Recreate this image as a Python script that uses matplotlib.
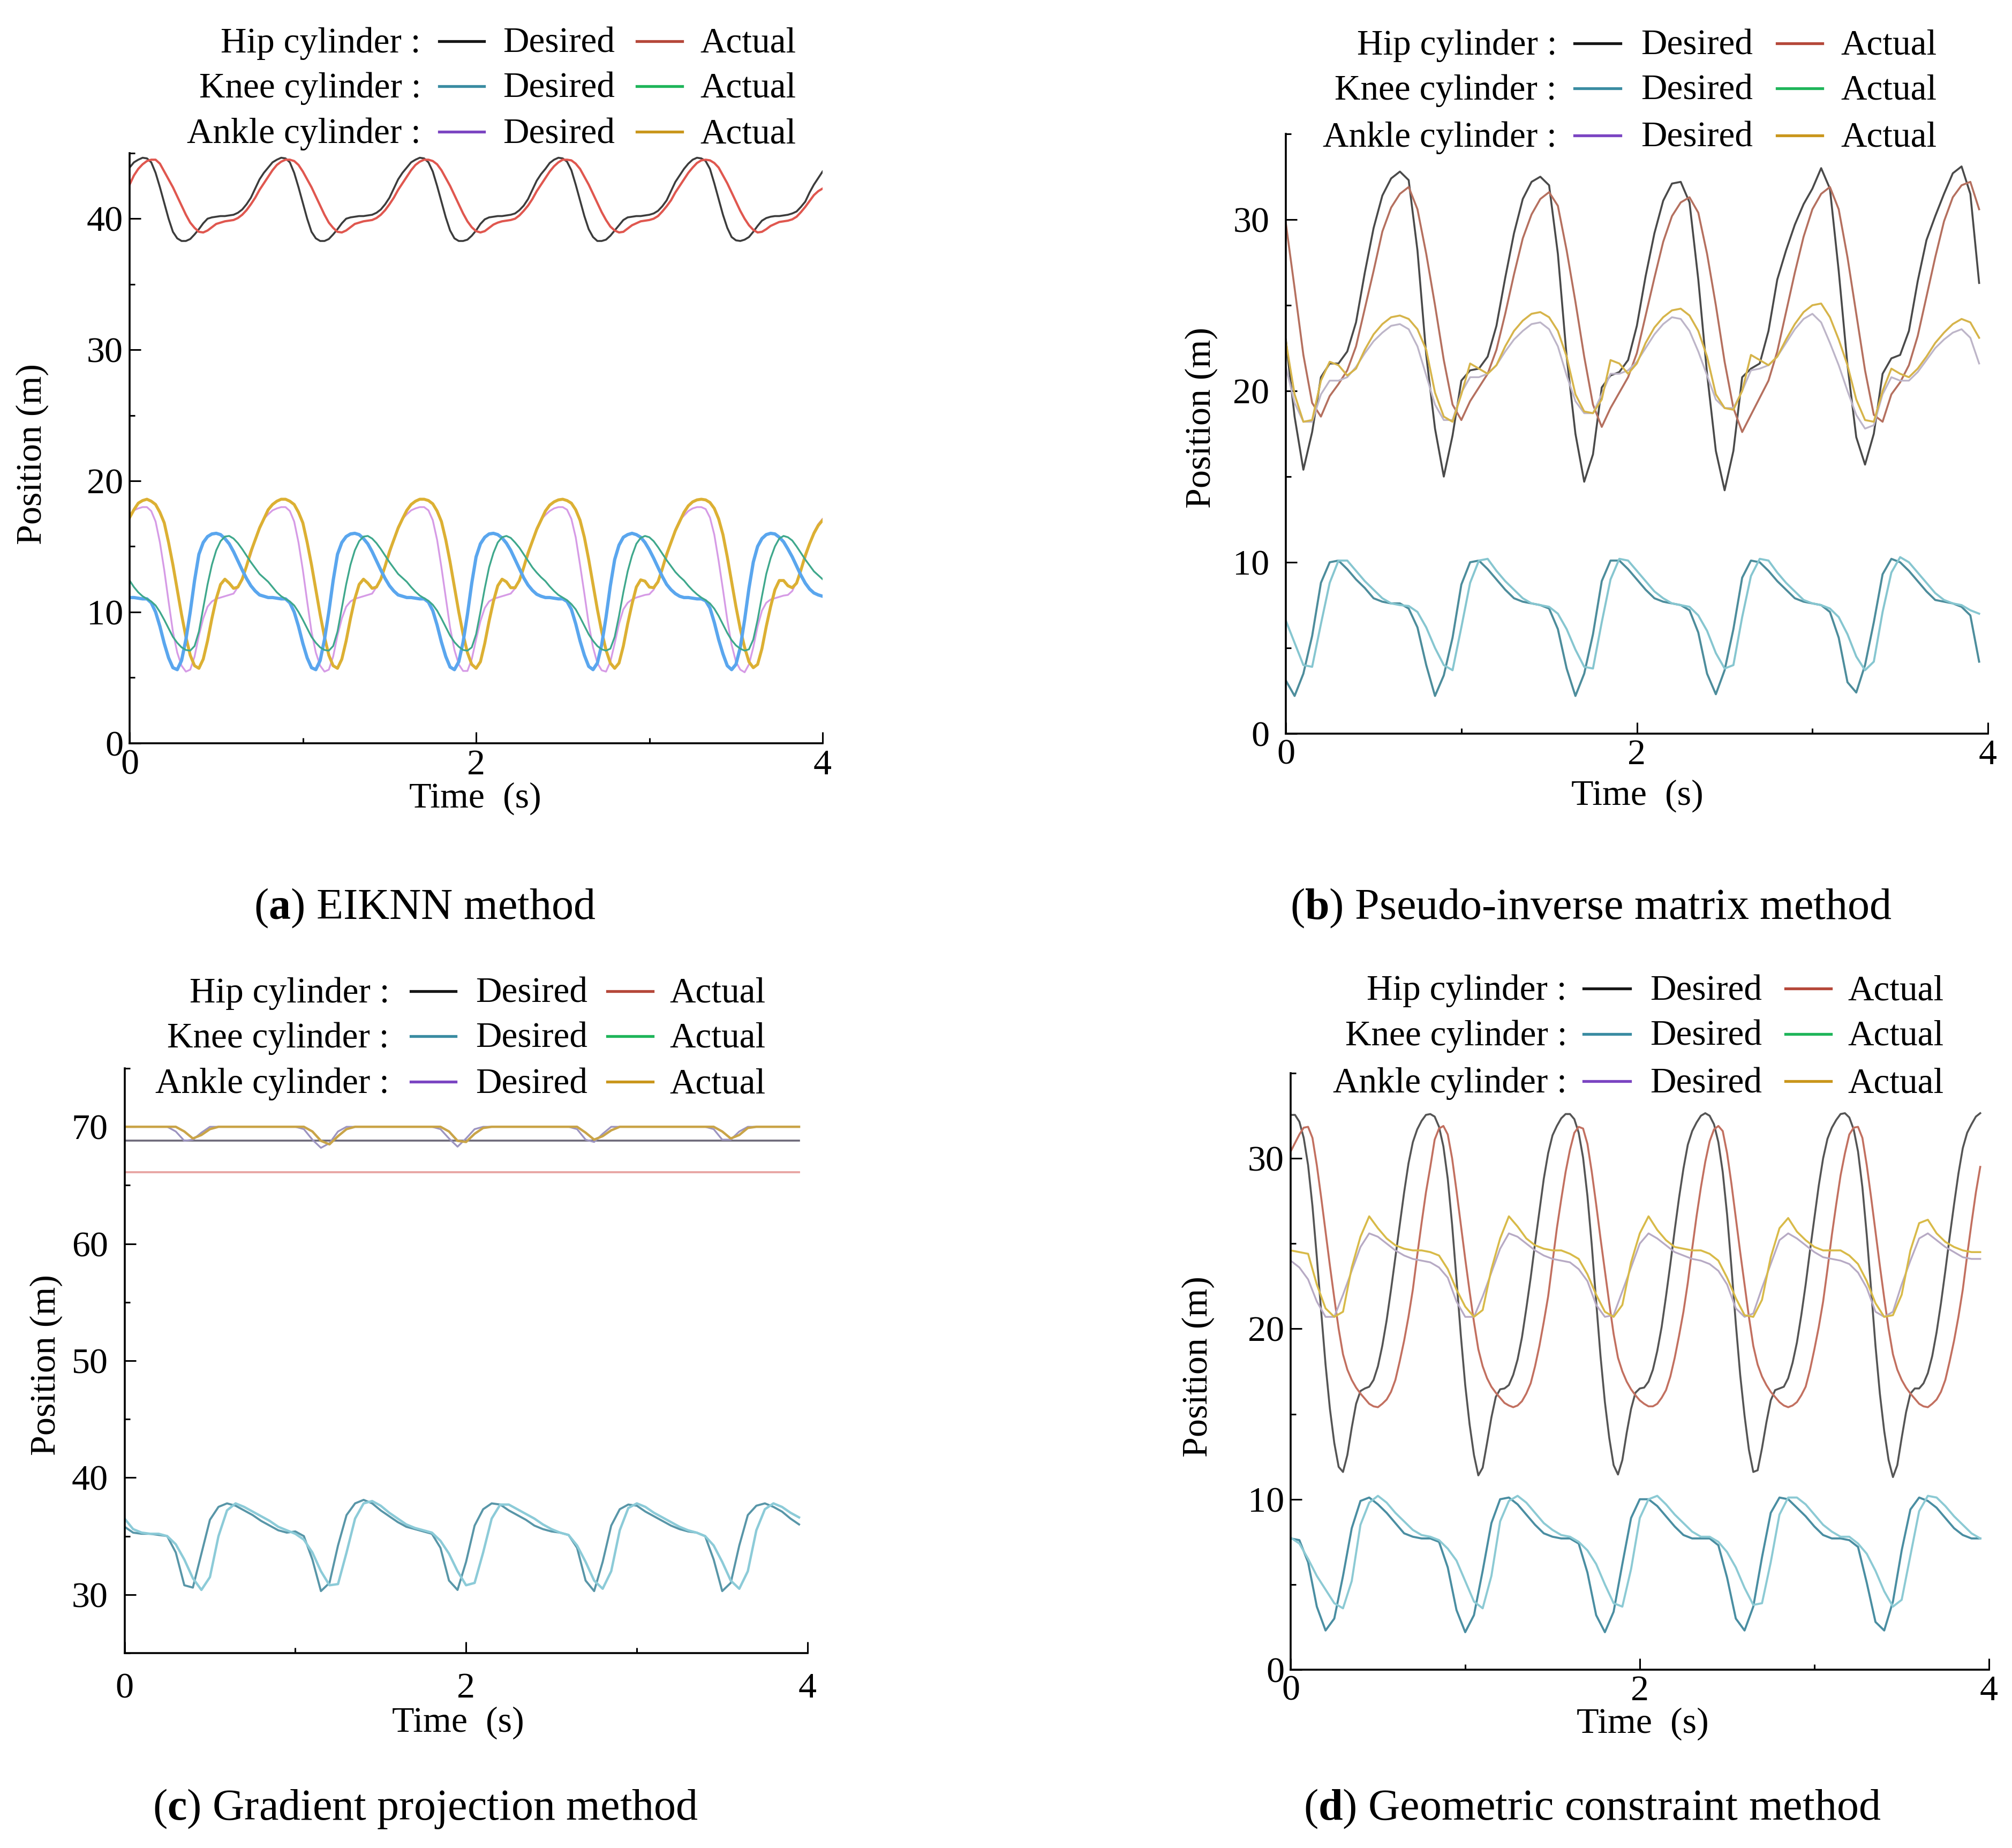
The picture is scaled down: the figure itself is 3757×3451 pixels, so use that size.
import numpy as np
import matplotlib
matplotlib.use("Agg")
import matplotlib.pyplot as plt
from matplotlib.lines import Line2D

plt.rcParams['font.family'] = ['Liberation Serif', 'DejaVu Serif']
plt.rcParams['mathtext.fontset'] = 'custom'
plt.rcParams['mathtext.rm'] = 'Liberation Serif'
plt.rcParams['mathtext.bf'] = 'Liberation Serif:bold'
plt.rcParams['lines.solid_joinstyle'] = 'round'

W, H = 3757, 3451
DPI = 200

TICK_FS = 24.5
LABEL_FS = 24.5
KEY_FS = 24.2
CAP_FS = 29.5

# ---------------- data ----------------
t_a = np.linspace(0, 4, 161)      # panel (a): every 0.025 s
t_b = np.linspace(0, 3.95, 80)    # panels (b)-(d): every 0.05 s
t_d = np.linspace(0, 3.95, 159)   # hip curves of panel (d): every 0.025 s

# (a) EIKNN method
hip_des_a = [
    43.9, 44.3, 44.5, 44.65, 44.6, 44.3, 43.5, 42.4, 41.2, 40.0, 39.0, 38.5, 38.3, 38.3, 38.45, 38.8,
    39.2, 39.65, 40.0, 40.1, 40.15, 40.2, 40.2, 40.25, 40.3, 40.45, 40.7, 41.1, 41.6, 42.3, 43.0, 43.5,
    43.9, 44.3, 44.5, 44.65, 44.6, 44.3, 43.5, 42.4, 41.2, 40.0, 39.0, 38.5, 38.3, 38.3, 38.45, 38.8,
    39.2, 39.65, 40.0, 40.1, 40.15, 40.2, 40.2, 40.25, 40.3, 40.45, 40.7, 41.1, 41.6, 42.3, 43.0, 43.5,
    43.9, 44.3, 44.5, 44.65, 44.6, 44.3, 43.6, 42.5, 41.3, 40.1, 39.1, 38.5, 38.3, 38.3, 38.4, 38.7,
    39.1, 39.6, 39.95, 40.1, 40.15, 40.2, 40.2, 40.25, 40.3, 40.4, 40.65, 41.0, 41.5, 42.2, 42.9, 43.4,
    43.8, 44.25, 44.5, 44.65, 44.6, 44.35, 43.7, 42.6, 41.4, 40.2, 39.2, 38.6, 38.3, 38.3, 38.4, 38.7,
    39.1, 39.5, 39.9, 40.1, 40.15, 40.2, 40.2, 40.25, 40.3, 40.4, 40.6, 40.95, 41.4, 42.1, 42.8, 43.3,
    43.8, 44.2, 44.5, 44.65, 44.6, 44.4, 43.8, 42.7, 41.5, 40.3, 39.3, 38.6, 38.35, 38.3, 38.4, 38.6,
    39.0, 39.45, 39.85, 40.05, 40.15, 40.2, 40.2, 40.25, 40.3, 40.4, 40.55, 40.9, 41.3, 42.0, 42.6, 43.1,
    43.6]
hip_act_a = [
    42.6, 43.3, 43.8, 44.15, 44.4, 44.5, 44.5, 44.2, 43.6, 43.0, 42.4, 41.7, 41.0, 40.3, 39.7, 39.3,
    39.0, 38.95, 39.1, 39.35, 39.6, 39.7, 39.8, 39.85, 39.9, 40.05, 40.3, 40.65, 41.1, 41.6, 42.2, 42.7,
    43.2, 43.7, 44.1, 44.35, 44.5, 44.5, 44.4, 44.1, 43.6, 43.0, 42.4, 41.7, 41.0, 40.3, 39.7, 39.3,
    39.0, 38.95, 39.1, 39.35, 39.6, 39.7, 39.8, 39.85, 39.9, 40.05, 40.3, 40.65, 41.1, 41.6, 42.2, 42.7,
    43.2, 43.7, 44.1, 44.35, 44.5, 44.5, 44.4, 44.15, 43.7, 43.1, 42.5, 41.8, 41.1, 40.4, 39.8, 39.35,
    39.05, 38.95, 39.05, 39.3, 39.55, 39.7, 39.8, 39.85, 39.9, 40.0, 40.25, 40.6, 41.0, 41.5, 42.1, 42.6,
    43.1, 43.6, 44.0, 44.3, 44.5, 44.5, 44.45, 44.2, 43.8, 43.2, 42.6, 41.9, 41.2, 40.5, 39.9, 39.4,
    39.1, 38.95, 39.0, 39.25, 39.5, 39.65, 39.8, 39.85, 39.9, 40.0, 40.2, 40.55, 40.95, 41.4, 42.0, 42.5,
    43.0, 43.5, 43.9, 44.25, 44.45, 44.5, 44.45, 44.25, 43.9, 43.3, 42.7, 42.0, 41.3, 40.6, 40.0, 39.5,
    39.15, 38.95, 39.0, 39.2, 39.45, 39.6, 39.75, 39.8, 39.85, 39.95, 40.15, 40.5, 40.9, 41.35, 41.8, 42.1,
    42.3]
knee_des_a = [
    11.1, 11.1, 11.05, 11.0, 11.0, 10.7, 10.0, 8.9, 7.6, 6.5, 5.75, 5.6, 6.3, 7.9, 10.0, 12.4,
    14.4, 15.3, 15.75, 15.95, 16.0, 15.9, 15.6, 15.2, 14.6, 13.9, 13.2, 12.55, 12.0, 11.6, 11.3, 11.2,
    11.1, 11.1, 11.05, 11.0, 11.0, 10.7, 10.0, 8.9, 7.6, 6.5, 5.75, 5.6, 6.3, 7.9, 10.0, 12.4,
    14.4, 15.3, 15.75, 15.95, 16.0, 15.9, 15.6, 15.2, 14.6, 13.9, 13.2, 12.55, 12.0, 11.6, 11.3, 11.2,
    11.1, 11.1, 11.05, 11.0, 11.0, 10.75, 10.1, 9.0, 7.7, 6.6, 5.8, 5.6, 6.2, 7.7, 9.8, 12.2,
    14.2, 15.2, 15.7, 15.95, 16.0, 15.9, 15.65, 15.25, 14.7, 14.0, 13.3, 12.6, 12.05, 11.65, 11.35, 11.2,
    11.1, 11.1, 11.05, 11.0, 11.0, 10.8, 10.2, 9.1, 7.8, 6.7, 5.85, 5.6, 6.1, 7.5, 9.6, 12.0,
    14.0, 15.1, 15.7, 15.9, 16.0, 15.9, 15.7, 15.3, 14.75, 14.1, 13.4, 12.7, 12.1, 11.7, 11.4, 11.2,
    11.1, 11.1, 11.05, 11.0, 11.0, 10.85, 10.3, 9.2, 7.9, 6.8, 5.9, 5.6, 6.0, 7.3, 9.4, 11.8,
    13.8, 15.0, 15.6, 15.9, 16.0, 15.95, 15.7, 15.35, 14.8, 14.2, 13.5, 12.8, 12.2, 11.75, 11.45, 11.3,
    11.2]
knee_act_a = [
    12.4, 11.9, 11.5, 11.2, 11.0, 10.8, 10.5, 10.0, 9.4, 8.75, 8.1, 7.65, 7.3, 7.1, 7.05, 7.4,
    8.5, 10.3, 12.1, 13.6, 14.7, 15.4, 15.75, 15.8, 15.6, 15.25, 14.8, 14.3, 13.8, 13.35, 12.9, 12.6,
    12.3, 11.9, 11.5, 11.2, 11.0, 10.8, 10.5, 10.0, 9.4, 8.75, 8.1, 7.65, 7.3, 7.1, 7.05, 7.4,
    8.5, 10.3, 12.1, 13.6, 14.7, 15.4, 15.75, 15.8, 15.6, 15.25, 14.8, 14.3, 13.8, 13.35, 12.9, 12.6,
    12.3, 11.9, 11.55, 11.25, 11.05, 10.85, 10.55, 10.1, 9.5, 8.85, 8.2, 7.7, 7.35, 7.1, 7.05, 7.3,
    8.3, 10.0, 11.8, 13.4, 14.5, 15.3, 15.7, 15.8, 15.65, 15.3, 14.9, 14.4, 13.9, 13.4, 13.0, 12.65,
    12.35, 11.95, 11.6, 11.3, 11.1, 10.9, 10.6, 10.2, 9.6, 8.95, 8.3, 7.8, 7.4, 7.15, 7.05, 7.2,
    8.1, 9.7, 11.5, 13.1, 14.3, 15.2, 15.65, 15.8, 15.7, 15.4, 14.95, 14.45, 13.95, 13.5, 13.05, 12.7,
    12.4, 12.0, 11.65, 11.35, 11.1, 10.9, 10.65, 10.25, 9.7, 9.05, 8.4, 7.85, 7.45, 7.2, 7.05, 7.15,
    7.9, 9.4, 11.2, 12.9, 14.1, 15.0, 15.6, 15.8, 15.7, 15.45, 15.0, 14.5, 14.0, 13.55, 13.1, 12.8,
    12.5]
ank_des_a = [
    17.45, 17.75, 17.9, 18.0, 18.0, 17.7, 16.9, 15.3, 13.2, 10.8, 8.5, 6.9, 5.9, 5.45, 5.6, 6.6,
    8.2, 9.5, 10.4, 10.8, 11.0, 11.1, 11.2, 11.3, 11.4, 11.9, 12.6, 13.5, 14.4, 15.5, 16.5, 17.1,
    17.45, 17.75, 17.9, 18.0, 18.0, 17.7, 16.9, 15.3, 13.2, 10.8, 8.5, 6.9, 5.9, 5.45, 5.6, 6.6,
    8.2, 9.5, 10.4, 10.8, 11.0, 11.1, 11.2, 11.3, 11.4, 11.9, 12.6, 13.5, 14.4, 15.5, 16.5, 17.1,
    17.45, 17.75, 17.9, 18.0, 18.0, 17.75, 17.0, 15.5, 13.4, 11.1, 8.8, 7.1, 6.0, 5.5, 5.5, 6.4,
    7.9, 9.3, 10.3, 10.8, 11.0, 11.1, 11.2, 11.3, 11.4, 11.8, 12.5, 13.4, 14.3, 15.4, 16.4, 17.05,
    17.4, 17.7, 17.9, 18.0, 18.0, 17.8, 17.1, 15.7, 13.6, 11.4, 9.1, 7.3, 6.1, 5.55, 5.45, 6.2,
    7.6, 9.1, 10.2, 10.7, 10.95, 11.1, 11.2, 11.3, 11.35, 11.7, 12.4, 13.3, 14.2, 15.3, 16.3, 17.0,
    17.35, 17.7, 17.9, 18.0, 18.0, 17.85, 17.2, 15.9, 13.9, 11.7, 9.4, 7.5, 6.2, 5.6, 5.4, 6.0,
    7.3, 8.9, 10.1, 10.7, 10.95, 11.05, 11.15, 11.25, 11.3, 11.6, 12.3, 13.2, 14.1, 15.2, 16.1, 16.7,
    17.1]
ank_act_a = [
    17.2, 17.8, 18.3, 18.5, 18.6, 18.45, 18.2, 17.6, 16.8, 15.3, 13.6, 11.7, 9.8, 8.1, 6.7, 5.9,
    5.7, 6.4, 7.8, 9.5, 11.0, 12.1, 12.5, 12.2, 11.8, 11.9, 12.5, 13.5, 14.6, 15.5, 16.4, 17.1,
    17.8, 18.2, 18.45, 18.6, 18.6, 18.45, 18.2, 17.6, 16.8, 15.3, 13.6, 11.7, 9.8, 8.1, 6.7, 5.9,
    5.7, 6.4, 7.8, 9.5, 11.0, 12.1, 12.5, 12.2, 11.8, 11.9, 12.5, 13.5, 14.6, 15.5, 16.4, 17.1,
    17.75, 18.2, 18.45, 18.6, 18.6, 18.5, 18.25, 17.7, 16.9, 15.5, 13.8, 11.9, 10.0, 8.3, 6.9, 6.0,
    5.7, 6.2, 7.6, 9.3, 10.8, 12.0, 12.5, 12.3, 11.85, 11.85, 12.4, 13.4, 14.5, 15.4, 16.3, 17.0,
    17.7, 18.15, 18.4, 18.55, 18.6, 18.5, 18.3, 17.8, 17.0, 15.7, 14.0, 12.1, 10.2, 8.5, 7.1, 6.1,
    5.7, 6.1, 7.4, 9.1, 10.6, 11.9, 12.45, 12.35, 11.9, 11.85, 12.3, 13.3, 14.4, 15.3, 16.2, 16.9,
    17.6, 18.1, 18.4, 18.55, 18.6, 18.55, 18.35, 17.9, 17.1, 15.9, 14.2, 12.3, 10.4, 8.7, 7.3, 6.2,
    5.75, 6.0, 7.2, 8.9, 10.4, 11.7, 12.4, 12.4, 12.0, 11.85, 12.2, 13.2, 14.3, 15.2, 16.0, 16.6,
    17.0]

# (b) Pseudo-inverse matrix method
hip_des_b = [
    23.0, 18.5, 15.4, 17.6, 20.8, 21.6, 21.6, 22.3, 24.0, 26.9, 29.5, 31.4, 32.4, 32.8, 32.3, 28.2,
    22.1, 17.8, 15.0, 17.4, 20.6, 21.2, 21.3, 22.0, 23.8, 26.6, 29.2, 31.2, 32.2, 32.5, 32.0, 28.0,
    22.0, 17.5, 14.7, 16.3, 20.2, 20.9, 21.1, 21.8, 23.8, 26.7, 29.2, 31.1, 32.1, 32.2, 31.0, 26.5,
    21.0, 16.5, 14.2, 16.5, 20.8, 21.3, 21.6, 23.5, 26.5, 28.2, 29.7, 30.9, 31.8, 33.0, 31.8, 27.0,
    21.5, 17.3, 15.7, 17.5, 21.0, 21.9, 22.1, 23.5, 26.4, 28.8, 30.2, 31.5, 32.7, 33.1, 31.5, 26.3]
hip_act_b = [
    29.8, 26.0, 22.1, 19.3, 18.5, 19.7, 20.4, 21.2, 22.6, 24.8, 27.0, 29.3, 30.7, 31.5, 31.9, 30.6,
    28.0, 25.0, 21.8, 19.2, 18.3, 19.4, 20.2, 21.0, 22.4, 24.5, 26.8, 28.9, 30.3, 31.2, 31.6, 30.8,
    28.2, 25.2, 22.0, 19.2, 17.9, 19.0, 19.9, 20.8, 22.2, 24.4, 26.6, 28.7, 30.2, 31.0, 31.3, 30.4,
    28.0, 25.0, 21.7, 19.0, 17.6, 18.6, 19.6, 20.6, 22.3, 24.6, 26.9, 29.0, 30.6, 31.5, 31.9, 30.6,
    27.8, 24.5, 21.2, 18.6, 18.2, 19.8, 20.5, 21.5, 23.2, 25.5, 27.8, 29.9, 31.3, 32.0, 32.2, 30.6]
knee_des_b = [
    3.1, 2.2, 3.5, 5.7, 8.8, 10.0, 10.1, 9.6, 9.0, 8.5, 7.9, 7.7, 7.6, 7.6, 7.3, 6.2,
    4.0, 2.2, 3.4, 5.6, 8.7, 10.0, 10.1, 9.6, 9.0, 8.4, 7.9, 7.7, 7.6, 7.5, 7.3, 6.1,
    3.8, 2.2, 3.5, 5.8, 8.9, 10.1, 10.1, 9.6, 9.0, 8.4, 7.9, 7.7, 7.6, 7.5, 7.2, 5.9,
    3.5, 2.3, 3.7, 6.1, 9.1, 10.1, 10.0, 9.5, 8.9, 8.4, 7.9, 7.7, 7.6, 7.5, 7.1, 5.6,
    3.0, 2.4, 4.0, 6.5, 9.3, 10.2, 10.0, 9.5, 8.9, 8.3, 7.8, 7.7, 7.6, 7.4, 6.9, 4.2]
knee_act_b = [
    6.6, 5.3, 4.0, 3.9, 6.4, 8.8, 10.1, 10.1, 9.5, 8.9, 8.4, 7.9, 7.6, 7.5, 7.45, 7.1,
    6.2, 5.0, 4.0, 3.7, 6.2, 8.8, 10.1, 10.2, 9.5, 8.9, 8.4, 7.9, 7.6, 7.5, 7.4, 7.0,
    6.1, 4.9, 3.9, 3.8, 6.5, 9.0, 10.2, 10.1, 9.5, 8.9, 8.3, 7.9, 7.6, 7.5, 7.4, 6.9,
    6.0, 4.7, 3.8, 4.0, 6.8, 9.2, 10.2, 10.1, 9.4, 8.8, 8.3, 7.8, 7.6, 7.5, 7.3, 6.8,
    5.8, 4.5, 3.7, 4.2, 7.1, 9.4, 10.3, 10.0, 9.4, 8.8, 8.2, 7.8, 7.6, 7.5, 7.2, 7.0]
ank_des_b = [
    21.4, 19.3, 18.2, 18.2, 19.8, 20.6, 20.6, 20.8, 21.4, 22.2, 22.9, 23.4, 23.8, 23.9, 23.6, 22.6,
    20.9, 19.2, 18.3, 18.3, 19.9, 20.8, 20.8, 21.0, 21.5, 22.3, 23.0, 23.5, 23.9, 24.0, 23.6, 22.6,
    20.9, 19.4, 18.7, 18.7, 19.8, 21.0, 21.0, 21.2, 21.7, 22.5, 23.3, 23.9, 24.3, 24.2, 23.5, 22.3,
    20.9, 19.5, 19.0, 19.0, 20.0, 21.2, 21.3, 21.5, 22.0, 22.8, 23.6, 24.2, 24.5, 24.0, 22.8, 21.5,
    20.0, 18.6, 17.8, 18.0, 19.8, 20.8, 20.6, 20.6, 21.1, 21.8, 22.5, 23.0, 23.4, 23.6, 23.1, 21.6]
ank_act_b = [
    22.9, 19.8, 18.2, 18.3, 20.6, 21.7, 21.5, 20.9, 21.3, 22.4, 23.3, 23.9, 24.3, 24.4, 24.2, 23.6,
    22.4, 19.9, 18.5, 18.2, 19.8, 21.6, 21.3, 21.0, 21.5, 22.6, 23.5, 24.1, 24.5, 24.6, 24.3, 23.5,
    22.0, 19.8, 18.8, 18.7, 19.5, 21.8, 21.6, 21.0, 21.6, 22.8, 23.7, 24.3, 24.7, 24.8, 24.4, 23.5,
    22.0, 19.8, 19.0, 18.9, 20.0, 22.1, 21.8, 21.5, 22.0, 23.0, 23.9, 24.6, 25.0, 25.1, 24.3, 23.0,
    21.5, 19.5, 18.3, 18.2, 20.0, 21.3, 21.0, 20.8, 21.3, 22.0, 22.8, 23.4, 23.9, 24.2, 24.0, 23.1]

# (c) Gradient projection method
hip_des_c = [68.8] * 80
hip_act_c = [66.1] * 80
knee_des_c = [
    35.8, 35.3, 35.2, 35.2, 35.1, 35.0, 33.6, 30.8, 30.6, 33.5, 36.4, 37.5, 37.8, 37.6, 37.2, 36.8,
    36.3, 35.9, 35.5, 35.3, 35.4, 35.0, 33.0, 30.3, 31.0, 34.2, 36.8, 37.8, 38.1, 37.8, 37.2, 36.7,
    36.2, 35.8, 35.6, 35.4, 35.2, 34.0, 31.2, 30.4, 32.8, 35.9, 37.3, 37.8, 37.7, 37.2, 36.8, 36.4,
    35.9, 35.6, 35.4, 35.3, 35.1, 34.0, 31.2, 30.3, 32.8, 35.9, 37.3, 37.7, 37.6, 37.1, 36.7, 36.3,
    35.9, 35.6, 35.4, 35.3, 35.0, 33.0, 30.3, 31.0, 34.2, 36.8, 37.6, 37.8, 37.5, 37.1, 36.5, 36.0]
knee_act_c = [
    36.5, 35.6, 35.3, 35.2, 35.2, 35.0, 34.3, 33.0, 31.4, 30.4, 31.5, 35.0, 37.2, 37.8, 37.5, 37.1,
    36.7, 36.3, 35.8, 35.5, 35.2, 34.7, 33.6, 32.0, 30.8, 30.9, 33.6, 36.5, 37.8, 38.0, 37.6, 37.0,
    36.5, 36.0, 35.7, 35.5, 35.3, 34.6, 33.5, 32.0, 30.8, 31.0, 33.6, 36.5, 37.7, 37.7, 37.3, 36.9,
    36.5, 36.0, 35.6, 35.3, 35.1, 34.2, 32.8, 31.2, 30.5, 32.0, 35.5, 37.4, 37.8, 37.5, 37.0, 36.6,
    36.2, 35.8, 35.5, 35.3, 35.0, 34.2, 32.8, 31.2, 30.5, 32.0, 35.5, 37.3, 37.8, 37.5, 37.0, 36.6]
ank_des_c = [
    70.0, 70.0, 70.0, 70.0, 70.0, 70.0, 69.6, 68.8, 68.9, 69.5, 70.0, 70.0, 70.0, 70.0, 70.0, 70.0,
    70.0, 70.0, 70.0, 70.0, 70.0, 69.8, 68.9, 68.2, 68.6, 69.6, 70.0, 70.0, 70.0, 70.0, 70.0, 70.0,
    70.0, 70.0, 70.0, 70.0, 70.0, 69.8, 69.0, 68.3, 69.0, 69.8, 70.0, 70.0, 70.0, 70.0, 70.0, 70.0,
    70.0, 70.0, 70.0, 70.0, 70.0, 69.8, 68.9, 68.7, 69.4, 70.0, 70.0, 70.0, 70.0, 70.0, 70.0, 70.0,
    70.0, 70.0, 70.0, 70.0, 70.0, 69.8, 68.9, 68.9, 69.6, 70.0, 70.0, 70.0, 70.0, 70.0, 70.0, 70.0]
ank_act_c = [
    70.0, 70.0, 70.0, 70.0, 70.0, 70.0, 70.0, 69.6, 69.0, 69.3, 69.8, 70.0, 70.0, 70.0, 70.0, 70.0,
    70.0, 70.0, 70.0, 70.0, 70.0, 70.0, 69.6, 68.8, 68.5, 69.2, 69.8, 70.0, 70.0, 70.0, 70.0, 70.0,
    70.0, 70.0, 70.0, 70.0, 70.0, 70.0, 69.6, 68.8, 68.7, 69.4, 69.9, 70.0, 70.0, 70.0, 70.0, 70.0,
    70.0, 70.0, 70.0, 70.0, 70.0, 70.0, 69.5, 68.9, 69.2, 69.7, 70.0, 70.0, 70.0, 70.0, 70.0, 70.0,
    70.0, 70.0, 70.0, 70.0, 70.0, 70.0, 69.6, 69.0, 69.3, 69.9, 70.0, 70.0, 70.0, 70.0, 70.0, 70.0]

# (d) Geometric constraint method
hip_des_d = [
    32.55, 32.55, 32.15, 31.2, 29.6, 27.2, 24.2, 21.0, 17.9, 15.3, 13.3, 11.9, 11.6, 12.6, 14.2, 15.6,
    16.35, 16.5, 16.6, 17.0, 17.8, 19.0, 20.5, 22.3, 24.2, 26.1, 28.0, 29.7, 30.95, 31.7, 32.2, 32.55,
    32.6, 32.45, 31.85, 30.7, 28.8, 26.1, 22.9, 19.6, 16.7, 14.4, 12.6, 11.4, 11.85, 13.3, 14.8, 16.0,
    16.45, 16.5, 16.7, 17.3, 18.2, 19.5, 21.2, 23.0, 25.0, 26.9, 28.8, 30.3, 31.35, 31.9, 32.35, 32.6,
    32.6, 32.3, 31.5, 30.05, 27.8, 24.9, 21.6, 18.4, 15.7, 13.6, 12.0, 11.45, 12.3, 13.9, 15.3, 16.25,
    16.5, 16.55, 16.9, 17.6, 18.7, 20.1, 21.9, 23.8, 25.8, 27.7, 29.4, 30.8, 31.6, 32.1, 32.5, 32.65,
    32.5, 32.0, 30.95, 29.2, 26.7, 23.6, 20.3, 17.3, 14.9, 12.9, 11.6, 11.7, 13.0, 14.5, 15.8, 16.4,
    16.5, 16.6, 17.1, 18.0, 19.2, 20.8, 22.6, 24.6, 26.5, 28.4, 30.0, 31.15, 31.8, 32.25, 32.6, 32.65,
    32.4, 31.7, 30.4, 28.3, 25.5, 22.3, 19.0, 16.2, 14.0, 12.3, 11.3, 12.0, 13.6, 15.1, 16.2, 16.5,
    16.5, 16.8, 17.4, 18.4, 19.8, 21.5, 23.4, 25.4, 27.3, 29.1, 30.6, 31.5, 32.0, 32.45, 32.65]
hip_act_d = [
    30.4, 30.9, 31.4, 31.8, 31.85, 31.2, 29.6, 27.7, 25.7, 23.7, 21.8, 20.0, 18.5, 17.6, 17.0, 16.55,
    16.2, 15.9, 15.6, 15.45, 15.4, 15.6, 15.85, 16.3, 17.0, 18.1, 19.3, 20.7, 22.3, 24.3, 26.2, 28.0,
    29.5, 31.1, 31.75, 31.9, 31.4, 30.0, 28.1, 26.1, 24.1, 22.2, 20.4, 18.8, 17.8, 17.1, 16.6, 16.25,
    15.95, 15.65, 15.5, 15.4, 15.5, 15.75, 16.2, 16.8, 17.8, 19.0, 20.4, 21.9, 23.9, 25.9, 27.6, 29.2,
    30.5, 31.5, 31.85, 31.75, 30.85, 29.2, 27.3, 25.3, 23.4, 21.5, 19.7, 18.3, 17.5, 16.9, 16.45, 16.1,
    15.8, 15.6, 15.45, 15.45, 15.6, 15.95, 16.4, 17.2, 18.3, 19.6, 21.0, 22.7, 24.7, 26.6, 28.3, 29.8,
    31.0, 31.7, 31.9, 31.6, 30.3, 28.5, 26.5, 24.5, 22.6, 20.7, 19.0, 17.9, 17.2, 16.7, 16.3, 16.0,
    15.7, 15.5, 15.4, 15.5, 15.7, 16.1, 16.6, 17.6, 18.8, 20.1, 21.6, 23.5, 25.5, 27.3, 29.0, 30.3,
    31.4, 31.8, 31.85, 31.2, 29.6, 27.7, 25.7, 23.7, 21.8, 20.0, 18.5, 17.6, 17.0, 16.55, 16.2, 15.9,
    15.6, 15.45, 15.4, 15.6, 15.85, 16.3, 17.0, 18.1, 19.3, 20.7, 22.3, 24.3, 26.2, 28.0, 29.5]
knee_des_d = [
    7.7, 7.6, 6.3, 3.7, 2.3, 3.0, 5.5, 8.3, 9.9, 10.1, 9.7, 9.2, 8.6, 8.0, 7.8, 7.7,
    7.7, 7.5, 6.0, 3.5, 2.2, 3.2, 5.8, 8.6, 10.0, 10.1, 9.7, 9.1, 8.5, 8.0, 7.8, 7.7,
    7.7, 7.4, 5.7, 3.2, 2.2, 3.4, 6.2, 8.9, 10.0, 10.0, 9.6, 9.0, 8.4, 7.9, 7.7, 7.7,
    7.7, 7.3, 5.4, 3.0, 2.3, 3.7, 6.6, 9.2, 10.1, 10.0, 9.5, 9.0, 8.4, 7.9, 7.7, 7.7,
    7.6, 7.2, 5.1, 2.8, 2.3, 4.0, 7.0, 9.4, 10.1, 9.9, 9.5, 8.9, 8.3, 7.9, 7.7, 7.7]
knee_act_d = [
    7.75, 7.4, 6.5, 5.5, 4.7, 3.9, 3.6, 5.2, 8.5, 9.8, 10.2, 9.8, 9.2, 8.7, 8.2, 7.9,
    7.8, 7.6, 7.1, 6.4, 5.2, 4.0, 3.6, 5.5, 8.7, 9.9, 10.2, 9.8, 9.2, 8.6, 8.2, 7.9,
    7.8, 7.5, 7.0, 6.2, 5.0, 3.9, 3.7, 5.9, 8.9, 10.0, 10.2, 9.7, 9.1, 8.6, 8.1, 7.8,
    7.8, 7.5, 6.9, 6.0, 4.8, 3.8, 3.9, 6.3, 9.1, 10.1, 10.1, 9.7, 9.1, 8.5, 8.1, 7.8,
    7.8, 7.4, 6.8, 5.8, 4.6, 3.7, 4.1, 6.7, 9.3, 10.2, 10.1, 9.6, 9.0, 8.5, 8.0, 7.7]
ank_des_d = [
    24.0, 23.6, 22.9, 21.6, 20.7, 20.7, 22.0, 23.4, 24.8, 25.6, 25.4, 25.0, 24.6, 24.3, 24.1, 24.0,
    23.9, 23.6, 23.0, 21.6, 20.7, 20.7, 21.9, 23.3, 24.7, 25.6, 25.4, 25.0, 24.6, 24.3, 24.1, 24.0,
    23.9, 23.5, 22.8, 21.4, 20.7, 20.8, 22.2, 23.6, 25.0, 25.6, 25.3, 24.9, 24.5, 24.3, 24.1, 24.0,
    23.8, 23.4, 22.6, 21.2, 20.7, 20.9, 22.4, 23.8, 25.2, 25.6, 25.3, 24.9, 24.5, 24.2, 24.1, 24.0,
    23.8, 23.3, 22.4, 21.0, 20.7, 21.0, 22.6, 24.0, 25.3, 25.6, 25.2, 24.8, 24.5, 24.2, 24.1, 24.1]
ank_act_d = [
    24.6, 24.5, 24.4, 22.6, 21.2, 20.7, 21.0, 23.6, 25.4, 26.6, 25.9, 25.3, 24.9, 24.7, 24.6, 24.6,
    24.5, 24.3, 23.5, 22.3, 21.3, 20.7, 21.1, 23.5, 25.3, 26.6, 26.0, 25.3, 24.9, 24.7, 24.6, 24.6,
    24.4, 24.1, 23.2, 22.0, 21.0, 20.7, 21.4, 23.9, 25.6, 26.6, 25.8, 25.2, 24.8, 24.7, 24.6, 24.6,
    24.4, 24.0, 23.0, 21.8, 20.8, 20.7, 21.7, 24.2, 25.9, 26.5, 25.7, 25.2, 24.8, 24.6, 24.6, 24.6,
    24.3, 23.8, 22.8, 21.5, 20.7, 20.8, 22.0, 24.6, 26.2, 26.4, 25.6, 25.1, 24.8, 24.6, 24.5, 24.5]

key_names = ['Hip cylinder :', 'Knee cylinder :', 'Ankle cylinder :']
key_colors = [('#161616', '#b5483a'), ('#3a8ca2', '#1fb55a'), ('#7b45c2', '#c9961c')]
captions = [r'($\mathbf{a}$) EIKNN method', r'($\mathbf{b}$) Pseudo-inverse matrix method',
            r'($\mathbf{c}$) Gradient projection method', r'($\mathbf{d}$) Geometric constraint method']


def setup_axes(ax, ylim, ymaj, ymin, xpad, ypad):
    ax.set_xlim(0, 4)
    ax.set_ylim(*ylim)
    for s in ['top', 'right']:
        ax.spines[s].set_visible(False)
    for s in ['left', 'bottom']:
        ax.spines[s].set_linewidth(1.3)
    ax.set_xticks([0, 2, 4])
    ax.set_xticks([1, 3], minor=True)
    ax.set_yticks(ymaj)
    ax.set_yticks(ymin, minor=True)
    ax.tick_params(which='both', direction='in', width=1.1, labelsize=TICK_FS)
    ax.tick_params(which='major', length=7.5)
    ax.tick_params(which='minor', length=3.5)
    ax.tick_params(axis='x', which='both', pad=xpad)
    ax.tick_params(axis='y', which='both', pad=ypad)
    ax.set_facecolor('none')


def draw_key(fig, label_right, seg1, desired_x, seg2, actual_x, rows_y):
    for name, y, (c1, c2) in zip(key_names, rows_y, key_colors):
        fy = 1 - y / H
        fb = 1 - (y + 21) / H
        fig.text(label_right / W, fb, name, ha='right', va='baseline', fontsize=KEY_FS)
        fig.add_artist(Line2D([seg1[0] / W, seg1[1] / W], [fy, fy], color=c1, lw=1.9))
        fig.text(desired_x / W, fb, 'Desired', ha='left', va='baseline', fontsize=KEY_FS)
        fig.add_artist(Line2D([seg2[0] / W, seg2[1] / W], [fy, fy], color=c2, lw=1.9))
        fig.text(actual_x / W, fb, 'Actual', ha='left', va='baseline', fontsize=KEY_FS)


fig = plt.figure(figsize=(W / DPI, H / DPI), dpi=DPI)

# axes boxes in pixels: left, right, bottom(y0 px), top px
boxes = [(242, 1536, 1387.6, 286), (2401, 3712, 1370, 250),
         (232.6, 1508, 3087, 1995), (2410, 3714, 3118, 2004)]
axs = []
for (l, r, b, t) in boxes:
    axs.append(fig.add_axes([l / W, 1 - b / H, (r - l) / W, (b - t) / H]))

ax_a, ax_b, ax_c, ax_d = axs

# (a)
ax_a.plot(t_a, hip_des_a, color='#3c3c3c', lw=1.3)
ax_a.plot(t_a, hip_act_a, color='#e0574f', lw=1.5)
ax_a.plot(t_a, ank_des_a, color='#d69be6', lw=1.2)
ax_a.plot(t_a, ank_act_a, color='#dcb033', lw=2.0)
ax_a.plot(t_a, knee_des_a, color='#5aa6ee', lw=2.2)
ax_a.plot(t_a, knee_act_a, color='#3fa88c', lw=1.2)
setup_axes(ax_a, (0, 45), [0, 10, 20, 30, 40], [5, 15, 25, 35, 45], 4.0, 4.3)

# (b)
ax_b.plot(t_b, hip_des_b, color='#4a4a4a', lw=1.3)
ax_b.plot(t_b, hip_act_b, color='#b5705f', lw=1.3)
ax_b.plot(t_b, ank_des_b, color='#bdb5c8', lw=1.2)
ax_b.plot(t_b, ank_act_b, color='#d6b44a', lw=1.3)
ax_b.plot(t_b, knee_des_b, color='#4d8d9c', lw=1.4)
ax_b.plot(t_b, knee_act_b, color='#86c6d0', lw=1.4)
setup_axes(ax_b, (0, 35), [0, 10, 20, 30], [5, 15, 25, 35], 3.5, 11)

# (c)
ax_c.plot(t_b, hip_des_c, color='#6c6878', lw=1.3)
ax_c.plot(t_b, hip_act_c, color='#e8a6a4', lw=1.4)
ax_c.plot(t_b, ank_des_c, color='#9c94c0', lw=1.2)
ax_c.plot(t_b, ank_act_c, color='#c9a448', lw=1.6)
ax_c.plot(t_b, knee_des_c, color='#5896a8', lw=1.4)
ax_c.plot(t_b, knee_act_c, color='#8ccbd8', lw=1.6)
setup_axes(ax_c, (25, 75), [30, 40, 50, 60, 70], [25, 35, 45, 55, 65, 75], 13.0, 11)

# (d)
ax_d.plot(t_d, hip_des_d, color='#555555', lw=1.3)
ax_d.plot(t_d, hip_act_d, color='#c27060', lw=1.3)
ax_d.plot(t_b, ank_des_d, color='#b7aac4', lw=1.2)
ax_d.plot(t_b, ank_act_d, color='#d8ba48', lw=1.3)
ax_d.plot(t_b, knee_des_d, color='#4a8ea2', lw=1.4)
ax_d.plot(t_b, knee_act_d, color='#8ccad4', lw=1.4)
setup_axes(ax_d, (0, 35), [0, 10, 20, 30], [5, 15, 25, 35], 3.5, 4.3)

# axis labels
ylab_pos = [(-0.1406, 0.49), (-0.1205, 0.527), (-0.1144, 0.493), (-0.1327, 0.508)]
xlab_pos = [(0.4985, -0.094), (0.5004, -0.104), (0.488, -0.119), (0.504, -0.091)]
for ax, (yx, yy), (xx, xy) in zip(axs, ylab_pos, xlab_pos):
    ax.text(yx, yy, 'Position (m)', rotation=90, ha='center', va='center',
            transform=ax.transAxes, fontsize=LABEL_FS)
    ax.text(xx, xy, 'Time  (s)', ha='center', va='center',
            transform=ax.transAxes, fontsize=LABEL_FS)

# keys
draw_key(fig, 786, (820, 904), 939, (1189, 1274), 1307, [77, 161, 246])
draw_key(fig, 2907, (2940, 3026), 3064, (3318, 3403), 3437, [81, 165, 253])
draw_key(fig, 727, (767, 851), 888, (1134, 1219), 1250, [1851, 1935, 2020])
draw_key(fig, 2926, (2957, 3044), 3081, (3334, 3419), 3450, [1846, 1931, 2019])

# captions
cap_pos = [(793, 1696), (2971, 1696), (794, 3378), (2973, 3378)]
for (cx, cy), txt in zip(cap_pos, captions):
    fig.text(cx / W, 1 - cy / H, txt, ha='center', va='center', fontsize=CAP_FS)

fig.savefig('out.png', dpi=DPI)
